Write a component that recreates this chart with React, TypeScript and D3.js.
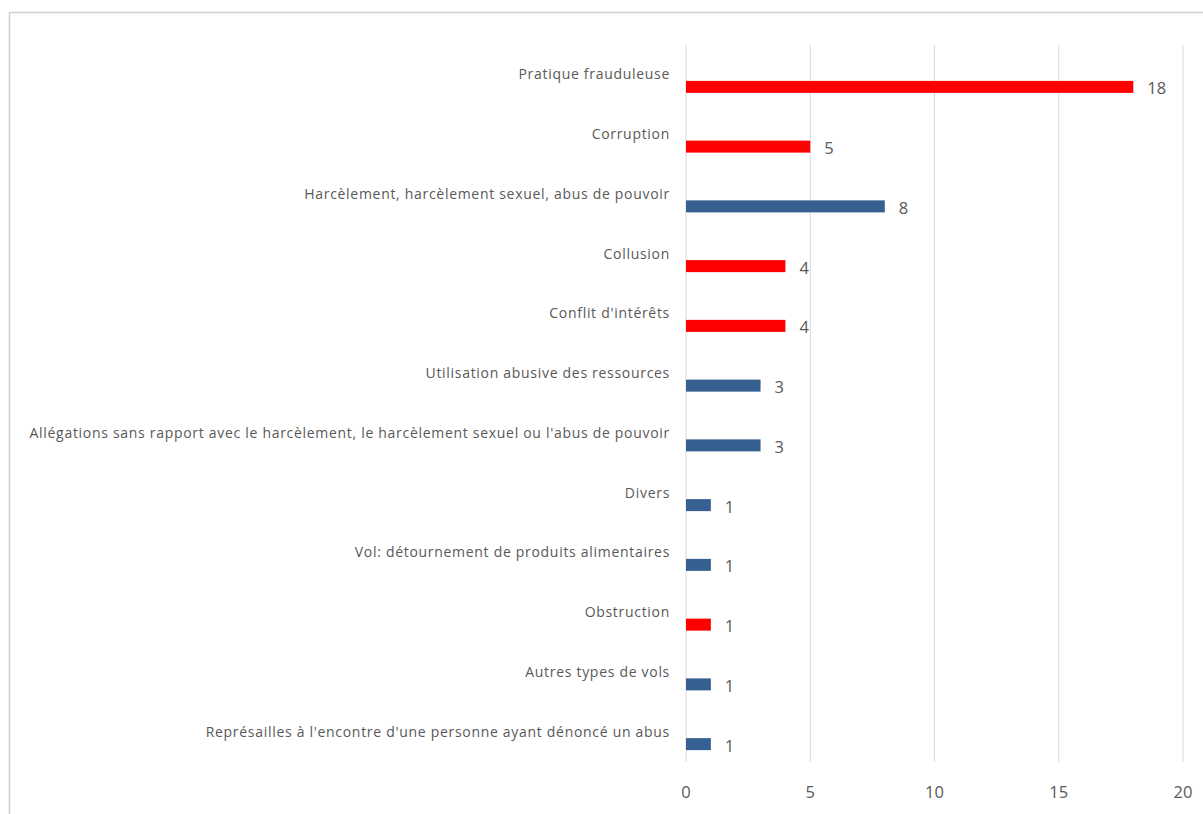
import React from "react";
import * as d3 from "d3";

const categories = [
  "Pratique frauduleuse",
  "Corruption",
  "Harcèlement, harcèlement sexuel, abus de pouvoir",
  "Collusion",
  "Conflit d'intérêts",
  "Utilisation abusive des ressources",
  "Allégations sans rapport avec le harcèlement, le harcèlement sexuel ou l'abus de pouvoir",
  "Divers",
  "Vol: détournement de produits alimentaires",
  "Obstruction",
  "Autres types de vols",
  "Représailles à l'encontre d'une personne ayant dénoncé un abus",
];
const values = [18, 5, 8, 4, 4, 3, 3, 1, 1, 1, 1, 1];
const groups = ["red", "red", "blue", "red", "red", "blue", "blue", "blue", "blue", "red", "blue", "blue"];
const xTicks = [0, 5, 10, 15, 20];

const W = 1203;
const H = 814;
const left = 686;
const right = 1183;
const top = 45;
const bottom = 762;

const colorMap: Record<string, string> = { red: "#FF0000", blue: "#376092" };

export default function App() {
  const x = d3.scaleLinear().domain([0, 20]).range([left, right]);
  const y = d3.scaleBand<string>().domain(categories).range([top, bottom]);
  const barH = 12;
  const barOff = 12;
  const textColor = "#595959";
  const font = "'Open Sans', sans-serif";
  return (
    <svg width={W} height={H} style={{ position: "absolute", left: 0, top: 0, background: "#fff" }}>
      <rect x={0} y={0} width={W} height={H} fill="#fff" />
      <line x1={9.5} y1={12.5} x2={W} y2={12.5} stroke="#cfcfcf" strokeWidth={1.5} />
      <line x1={9.5} y1={12.5} x2={9.5} y2={H} stroke="#cfcfcf" strokeWidth={1.5} />
      {xTicks.map((t) => (
        <g key={t}>
          <line x1={x(t)} x2={x(t)} y1={top} y2={bottom} stroke="#d9d9d9" strokeWidth={1} />
          <text x={x(t)} y={791} textAnchor="middle" dominantBaseline="central" fontFamily={font} fontSize={16.5} fill={textColor}>
            {t}
          </text>
        </g>
      ))}
      {categories.map((c, i) => {
        const cy = (y(c) as number) + y.bandwidth() / 2;
        return (
          <g key={c}>
            <text x={670} y={cy - 1} textAnchor="end" dominantBaseline="central" fontFamily={font} fontSize={14} letterSpacing={0.7} fill={textColor}>
              {c}
            </text>
            <rect x={x(0)} y={cy + barOff - barH / 2} width={x(values[i]) - x(0)} height={barH} fill={colorMap[groups[i]]} />
            <text x={x(values[i]) + 14} y={cy + barOff + 1} dominantBaseline="central" fontFamily={font} fontSize={16.5} fill={textColor}>
              {values[i]}
            </text>
          </g>
        );
      })}
    </svg>
  );
}
